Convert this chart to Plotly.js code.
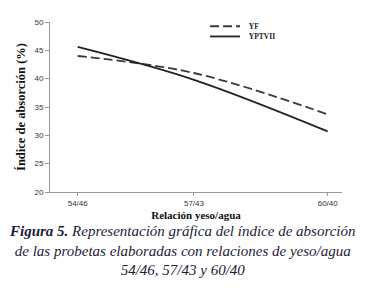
<!DOCTYPE html>
<html>
<head>
<meta charset="utf-8">
<script src="https://cdn.plot.ly/plotly-3.0.1.min.js"></script>
<style>
html,body{margin:0;padding:0;background:#fff;}
#chart{width:365px;height:292px;}
</style>
</head>
<body>
<div id="chart"></div>
<script>
// Data
const categories = ["54/46", "57/43", "60/40"];
const ratioValues = [54/46, 57/43, 60/40];   // gypsum/water ratio (numeric x position)
const seriesYF = [44.0, 41.0, 33.7];
const seriesYPTVII = [45.6, 39.8, 30.7];
const yTicks = [20, 25, 30, 35, 40, 45, 50];

const serif = "Liberation Serif";
const sans = "Liberation Sans";

const traces = [
  {
    x: ratioValues, y: seriesYF, name: "<b>\u00a0\u00a0YF</b>", mode: "lines", type: "scatter",
    line: {shape: "spline", smoothing: 1, color: "#3a3a3a", width: 1.8, dash: "9px,4px"},
    legend: "legend"
  },
  {
    x: ratioValues, y: seriesYPTVII, name: "<b>\u00a0\u00a0YPTVII</b>", mode: "lines", type: "scatter",
    line: {shape: "spline", smoothing: 1, color: "#222222", width: 1.8},
    legend: "legend2"
  }
];

const legendCommon = {
  xanchor: "left", yanchor: "middle", bgcolor: "rgba(0,0,0,0)",
  borderwidth: 0, font: {family: serif, size: 7.5, color: "#222"},
  itemwidth: 30
};

const layout = {
  width: 365, height: 292,
  margin: {l: 50, r: 23, t: 12, b: 100},
  paper_bgcolor: "#ffffff", plot_bgcolor: "#ffffff",
  showlegend: true,
  legend: Object.assign({}, legendCommon, {x: 0.531, y: 0.975}),
  legend2: Object.assign({}, legendCommon, {x: 0.531, y: 0.915}),
  xaxis: {
    range: [1.13778, 1.51865],
    tickvals: ratioValues, ticktext: categories,
    showgrid: false, zeroline: false,
    showline: true, linecolor: "#9a9a9a", linewidth: 1,
    ticks: "outside", ticklen: 3, tickcolor: "#9a9a9a",
    tickfont: {family: sans, size: 8, color: "#333"},
    title: {text: "<b>Relación yeso/agua</b>", font: {family: serif, size: 11, color: "#111"}, standoff: 4}
  },
  yaxis: {
    range: [20, 50],
    tickvals: yTicks,
    showgrid: false, zeroline: false,
    showline: true, linecolor: "#9a9a9a", linewidth: 1,
    ticks: "outside", ticklen: 4, tickcolor: "#9a9a9a",
    tickfont: {family: sans, size: 8, color: "#333"},
    title: {text: "<b>Índice de absorción (%)</b>", font: {family: serif, size: 12.5, color: "#111"}, standoff: 6}
  },
  annotations: [
    {
      xref: "paper", yref: "paper", x: 0.455, y: -0.344,
      xanchor: "center", yanchor: "middle", showarrow: false, align: "center",
      text: "<b>Figura 5.</b> Representación gráfica del índice de absorción<br>de las probetas elaboradas con relaciones de yeso/agua<br>54/46, 57/43 y 60/40",
      font: {family: serif, size: 15, style: "italic", color: "#1c1c38"}
    }
  ]
};

Plotly.newPlot("chart", traces, layout, {displayModeBar: false, staticPlot: true});
</script>
</body>
</html>
